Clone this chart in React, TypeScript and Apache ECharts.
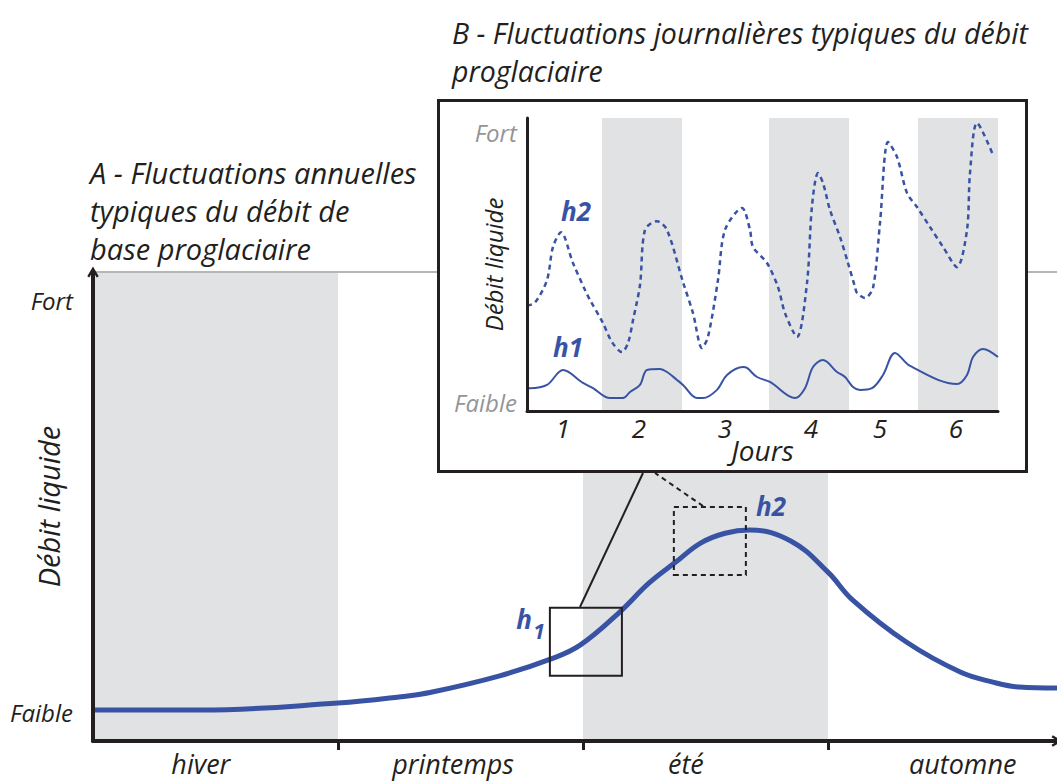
import React, { useEffect, useRef } from "react";
import * as echarts from "echarts";

// ---------- data ----------
const seasonLabels = ["hiver", "printemps", "été", "automne"];
const seasonLabelPos = [0.44, 1.47, 2.42, 3.55];
const seasonBounds = [1, 2, 3];
const shadedSeasons = [[0, 1], [2, 3]];

const annualX = [0, 0.44, 1.0, 1.25, 1.38, 1.66, 1.87, 1.99, 2.15, 2.27, 2.38, 2.48, 2.58, 2.68, 2.85, 3.0, 3.1, 3.32, 3.54, 3.67, 3.78, 3.935];
const annualY = [6.6, 6.6, 8.1, 9.4, 10.4, 13.9, 17.5, 20.5, 27.5, 33.7, 38.2, 42.2, 44.3, 45, 42.6, 36, 30.1, 21.1, 14.7, 12.6, 11.5, 11.3];

const yLevelPos = [6, 94];
const yLevelLabels = ["Faible", "Fort"];

const dayLabels = ["1", "2", "3", "4", "5", "6"];
const dayPos = [36, 112, 198, 284, 353, 429];
const shadedDays = [[75, 155], [242, 322], [391, 471]];

const h1X = [0, 3, 20, 36, 56, 66, 83, 96, 103, 113, 120, 133, 140, 150, 156, 170, 176, 190, 200, 216, 220, 230, 243, 268, 278, 286, 296, 310, 318, 326, 333, 345, 356, 368, 383, 430, 440, 446, 456, 471];
const h1Y = [7.8, 7.8, 8.9, 14, 9.6, 7.8, 4.4, 4.4, 6.5, 8.9, 14, 14.3, 13.3, 10.6, 8.9, 4.4, 4.4, 7.2, 12.3, 15, 14.7, 11.6, 9.9, 4.4, 7.8, 15, 17.4, 13.3, 11.6, 8.2, 7.2, 7.8, 12.3, 19.8, 15.4, 9.2, 12.3, 18.4, 21.2, 18.4];

const h2X = [0, 8, 20, 26, 34, 46, 58, 63, 76, 85, 95, 101, 106, 113, 118, 130, 140, 156, 166, 175, 181, 191, 198, 215, 223, 226, 240, 251, 258, 270, 280, 285, 291, 296, 303, 313, 321, 328, 330, 338, 346, 353, 361, 370, 380, 390, 403, 416, 430, 440, 443, 450, 466];
const h2Y = [36, 37, 44.7, 56, 61, 50.5, 41.3, 37.9, 30, 23.5, 20.1, 23.2, 31, 43, 61.8, 64.8, 61.8, 44, 33.4, 21.5, 25.3, 44.7, 61.8, 69.3, 61.8, 56, 50.5, 42.3, 33.4, 25.3, 43.7, 70, 81.2, 77.8, 68.6, 59.4, 50.5, 42.3, 40.3, 38.6, 42, 64.2, 91.8, 86.7, 74.4, 69.6, 62.8, 56, 49.1, 61.8, 81.2, 98.3, 87.4];

// boxes around h1 / h2 on annual curve (data coords)
const boxH1 = { x: [1.865, 2.159], y: [13.9, 28.4] };
const boxH2 = { x: [2.371, 2.665], y: [35.4, 49.9] };

// ---------- styles ----------
const FONT = "'Open Sans', 'Noto Sans', sans-serif";
const INK = "#231f20";
const BLUE = "#3953a4";
const BAND = "#e1e2e4";
const GREYTXT = "#939598";
const CHEVRON = "path://M5,0 L10,8.5 L8.2,9.6 L5,4.2 L1.8,9.6 L0,8.5 Z";

const zip = (xs: number[], ys: number[]) => xs.map((x, i) => [x, ys[i]]);
const nearestLabel = (v: number, pos: number[], labels: string[]) => {
  let best = 0;
  pos.forEach((p, i) => {
    if (Math.abs(p - v) < Math.abs(pos[best] - v)) best = i;
  });
  return labels[best];
};

const blueLabel = (text: string, x: number, y: number, size: number) => ({
  type: "text",
  x,
  y,
  z: 20,
  style: { text, fontFamily: FONT, fontStyle: "italic", fontWeight: "bold", fontSize: size, fill: BLUE, align: "center", verticalAlign: "middle" },
});

export default function App() {
  const mainRef = useRef<HTMLDivElement>(null);
  const insetRef = useRef<HTMLDivElement>(null);

  useEffect(() => {
    const main = echarts.init(mainRef.current!, undefined, { renderer: "svg" });
    const inset = echarts.init(insetRef.current!, undefined, { renderer: "svg" });

    main.setOption({
      animation: false,
      grid: { left: 93, top: 272, right: 0, bottom: 40, outerBoundsMode: "none" },
      xAxis: {
        type: "value",
        min: 0,
        max: 3.935,
        z: 6,
        splitLine: { show: false },
        axisLine: {
          show: true,
          lineStyle: { color: INK, width: 4 },
          symbol: ["none", CHEVRON],
          symbolSize: [15, 11],
        },
        axisTick: { show: true, customValues: seasonBounds, length: 9, lineStyle: { color: INK, width: 3 } },
        axisLabel: {
          customValues: seasonLabelPos,
          formatter: (v: number) => nearestLabel(v, seasonLabelPos, seasonLabels),
          fontFamily: FONT,
          fontStyle: "italic",
          fontSize: 27,
          lineHeight: 27,
          color: INK,
          margin: 9,
        },
      },
      yAxis: {
        type: "value",
        min: 0,
        max: 100,
        z: 6,
        splitLine: { show: false },
        axisLine: {
          show: true,
          lineStyle: { color: INK, width: 4 },
          symbol: ["none", CHEVRON],
          symbolSize: [15, 11],
        },
        axisTick: { show: false },
        axisLabel: {
          customValues: yLevelPos,
          formatter: (v: number) => nearestLabel(v, yLevelPos, yLevelLabels),
          fontFamily: FONT,
          fontStyle: "italic",
          fontSize: 24,
          color: INK,
          margin: 20,
        },
        name: "Débit liquide",
        nameLocation: "middle",
        nameGap: 30,
        nameMoveOverlap: false,
        nameTextStyle: { fontFamily: FONT, fontStyle: "italic", fontSize: 29, color: INK },
      },
      series: [
        {
          type: "line",
          data: [],
          z: 1,
          markArea: {
            silent: true,
            z: 1,
            itemStyle: { color: BAND },
            data: shadedSeasons.map(([a, b]) => [{ xAxis: a, yAxis: 0 }, { xAxis: b, yAxis: 100 }]),
          },
          markLine: {
            silent: true,
            symbol: ["none", "none"],
            label: { show: false },
            lineStyle: { color: "#b5b6b8", width: 2, type: "solid" },
            data: [{ yAxis: 100 }],
          },
        },
        {
          type: "line",
          data: zip(annualX, annualY),
          smooth: 0.4,
          symbol: "none",
          z: 3,
          lineStyle: { color: BLUE, width: 5 },
          markArea: {
            silent: true,
            z: 4,
            data: [
              [
                { xAxis: boxH1.x[0], yAxis: boxH1.y[0], itemStyle: { color: "rgba(0,0,0,0)", borderColor: INK, borderWidth: 2 } },
                { xAxis: boxH1.x[1], yAxis: boxH1.y[1] },
              ],
              [
                { xAxis: boxH2.x[0], yAxis: boxH2.y[0], itemStyle: { color: "rgba(0,0,0,0)", borderColor: INK, borderWidth: 2, borderType: [5, 4] } },
                { xAxis: boxH2.x[1], yAxis: boxH2.y[1] },
              ],
            ],
          },
        },
      ],
      graphic: [
        {
          type: "text",
          x: 90,
          y: 153,
          z: 20,
          style: {
            text: "A - Fluctuations annuelles\ntypiques du débit de\nbase proglaciaire",
            fontFamily: FONT,
            fontStyle: "italic",
            fontSize: 29,
            lineHeight: 38,
            fill: INK,
          },
        },
        {
          type: "text",
          x: 452,
          y: 14,
          z: 20,
          style: {
            text: "B - Fluctuations journalières typiques du débit\nproglaciaire",
            fontFamily: FONT,
            fontStyle: "italic",
            fontSize: 28.5,
            lineHeight: 38,
            fill: INK,
          },
        },
        blueLabel("h2", 771, 506, 26),
        blueLabel("h", 524, 619, 26),
        blueLabel("1", 539, 631, 21),
        {
          type: "line",
          z: 20,
          shape: { x1: 580, y1: 607, x2: 643, y2: 473 },
          style: { stroke: INK, lineWidth: 2 },
        },
        {
          type: "line",
          z: 20,
          shape: { x1: 703, y1: 506, x2: 655, y2: 473 },
          style: { stroke: INK, lineWidth: 2, lineDash: [5, 4] },
        },
      ],
    });

    inset.setOption({
      animation: false,
      grid: { left: 87, top: 16, right: 27, bottom: 59, outerBoundsMode: "none" },
      xAxis: {
        type: "value",
        min: 0,
        max: 471,
        z: 6,
        splitLine: { show: false },
        axisLine: { show: true, lineStyle: { color: INK, width: 3 } },
        axisTick: { show: false },
        axisLabel: {
          customValues: dayPos,
          formatter: (v: number) => nearestLabel(v, dayPos, dayLabels),
          fontFamily: FONT,
          fontStyle: "italic",
          fontSize: 26,
          lineHeight: 26,
          color: INK,
          margin: 4,
        },
        name: "Jours",
        nameLocation: "middle",
        nameGap: 25,
        nameMoveOverlap: false,
        nameTextStyle: { fontFamily: FONT, fontStyle: "italic", fontSize: 28, lineHeight: 28, color: INK },
      },
      yAxis: {
        type: "value",
        min: 0,
        max: 100,
        z: 6,
        splitLine: { show: false },
        axisLine: { show: true, lineStyle: { color: INK, width: 3 } },
        axisTick: { show: false },
        axisLabel: {
          customValues: [3, 95],
          formatter: (v: number) => (v > 50 ? "Fort" : "Faible"),
          fontFamily: FONT,
          fontStyle: "italic",
          fontSize: 24,
          color: GREYTXT,
          margin: 10,
        },
        name: "Débit liquide",
        nameLocation: "middle",
        nameGap: 22,
        nameMoveOverlap: false,
        nameTextStyle: { fontFamily: FONT, fontStyle: "italic", fontSize: 24, color: INK },
      },
      series: [
        {
          type: "line",
          name: "h1",
          data: zip(h1X, h1Y),
          smooth: 0.35,
          symbol: "none",
          z: 3,
          lineStyle: { color: BLUE, width: 2 },
          markArea: {
            silent: true,
            z: 1,
            itemStyle: { color: BAND },
            data: shadedDays.map(([a, b]) => [{ xAxis: a }, { xAxis: b }]),
          },
        },
        {
          type: "line",
          name: "h2",
          data: zip(h2X, h2Y),
          smooth: 0.3,
          symbol: "none",
          z: 3,
          lineStyle: { color: BLUE, width: 2.5, type: [5, 4] },
        },
      ],
      graphic: [blueLabel("h2", 136, 109, 26), blueLabel("h1", 128, 245, 26)],
    });

    return () => {
      main.dispose();
      inset.dispose();
    };
  }, []);

  return (
    <div style={{ position: "fixed", left: 0, top: 0, width: 1057, height: 781, background: "#fff", overflow: "hidden" }}>
      <div ref={mainRef} style={{ position: "absolute", left: 0, top: 0, width: 1057, height: 781 }} />
      <div
        style={{
          position: "absolute",
          left: 437,
          top: 99,
          width: 591,
          height: 374,
          boxSizing: "border-box",
          border: `3px solid ${INK}`,
          background: "#fff",
        }}
      >
        <div ref={insetRef} style={{ width: 585, height: 368 }} />
      </div>
    </div>
  );
}
